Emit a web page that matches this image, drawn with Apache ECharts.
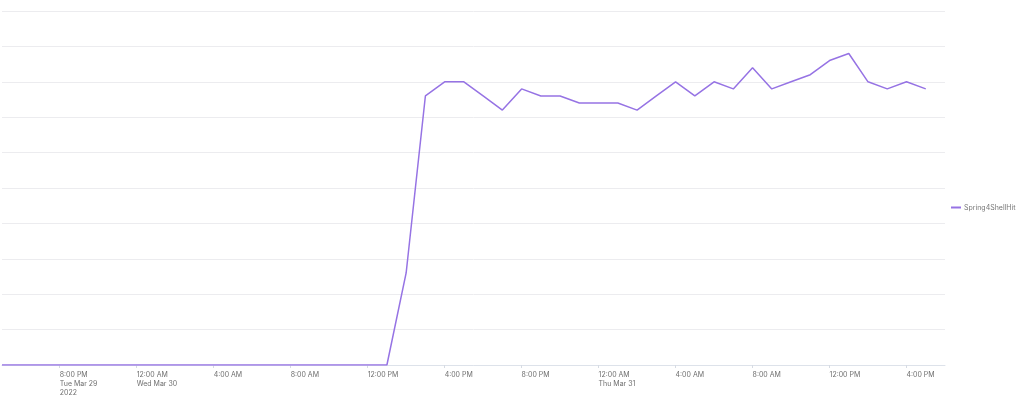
<!DOCTYPE html>
<html>
<head>
<meta charset="utf-8">
<title>Spring4ShellHit</title>
<script src="https://cdn.jsdelivr.net/npm/echarts@6/dist/echarts.min.js"></script>
<style>
    html, body { margin: 0; padding: 0; background: #fff; }
    #main { width: 1024px; height: 397px; }
</style>
</head>
<body>
<div id="main"></div>
<script>
// hourly samples
var times = [
    '2022-03-29 17:00', '2022-03-29 18:00', '2022-03-29 19:00', '2022-03-29 20:00',
    '2022-03-29 21:00', '2022-03-29 22:00', '2022-03-29 23:00', '2022-03-30 00:00',
    '2022-03-30 01:00', '2022-03-30 02:00', '2022-03-30 03:00', '2022-03-30 04:00',
    '2022-03-30 05:00', '2022-03-30 06:00', '2022-03-30 07:00', '2022-03-30 08:00',
    '2022-03-30 09:00', '2022-03-30 10:00', '2022-03-30 11:00', '2022-03-30 12:00',
    '2022-03-30 13:00', '2022-03-30 14:00', '2022-03-30 15:00', '2022-03-30 16:00',
    '2022-03-30 17:00', '2022-03-30 18:00', '2022-03-30 19:00', '2022-03-30 20:00',
    '2022-03-30 21:00', '2022-03-30 22:00', '2022-03-30 23:00', '2022-03-31 00:00',
    '2022-03-31 01:00', '2022-03-31 02:00', '2022-03-31 03:00', '2022-03-31 04:00',
    '2022-03-31 05:00', '2022-03-31 06:00', '2022-03-31 07:00', '2022-03-31 08:00',
    '2022-03-31 09:00', '2022-03-31 10:00', '2022-03-31 11:00', '2022-03-31 12:00',
    '2022-03-31 13:00', '2022-03-31 14:00', '2022-03-31 15:00', '2022-03-31 16:00',
    '2022-03-31 17:00'
];
var hits = [
    0, 0, 0, 0, 0, 0, 0, 0,
    0, 0, 0, 0, 0, 0, 0, 0,
    0, 0, 0, 0, 0, 26, 76, 80,
    80, 76, 72, 78, 76, 76, 74, 74,
    74, 72, 76, 80, 76, 80, 78, 84,
    78, 80, 82, 86, 88, 80, 78, 80,
    78
];
var seriesName = 'Spring4ShellHit';

// x axis labels
var tickTimes = [
    '2022-03-29 20:00', '2022-03-30 00:00', '2022-03-30 04:00', '2022-03-30 08:00',
    '2022-03-30 12:00', '2022-03-30 16:00', '2022-03-30 20:00', '2022-03-31 00:00',
    '2022-03-31 04:00', '2022-03-31 08:00', '2022-03-31 12:00', '2022-03-31 16:00'
];
var tickLabels = [
    '8:00 PM\nTue Mar 29\n2022', '12:00 AM\nWed Mar 30', '4:00 AM', '8:00 AM',
    '12:00 PM', '4:00 PM', '8:00 PM', '12:00 AM\nThu Mar 31',
    '4:00 AM', '8:00 AM', '12:00 PM', '4:00 PM'
];
var xMin = '2022-03-29 17:00';
var xMax = '2022-03-31 18:00';

(function () {
    var parse = function (s) { return +echarts.time.parse(s); };
    var tickTs = tickTimes.map(parse);

    function labelFor(value) {
        for (var i = 0; i < tickTs.length; i++) {
            if (Math.abs(tickTs[i] - value) < 1000) {
                return tickLabels[i];
            }
        }
        return '';
    }

    var myChart = echarts.init(document.getElementById('main'), null, { renderer: 'canvas' });
    var option = {
        animation: false,
        color: ['#9673e4'],
        textStyle: { fontFamily: 'Inter, "Noto Sans", sans-serif' },
        grid: { left: 2, right: 79, top: 11, bottom: 32, containLabel: false },
        legend: {
            orient: 'vertical',
            left: 951,
            top: 204,
            padding: 0,
            icon: 'rect',
            itemWidth: 10,
            itemHeight: 2,
            itemGap: 4,
            textStyle: { fontSize: 7, color: '#777', padding: [0, 0, 0, -2] },
            data: [seriesName]
        },
        xAxis: {
            type: 'value',
            min: parse(xMin),
            max: parse(xMax),
            axisLine: { onZero: false, lineStyle: { color: '#dde2ea', width: 1 } },
            axisTick: {
                show: true,
                length: 3,
                customValues: tickTs,
                lineStyle: { color: '#d6dbe3' }
            },
            axisLabel: {
                customValues: tickTs,
                align: 'left',
                margin: 5,
                fontSize: 7,
                lineHeight: 9,
                color: '#6e6e6e',
                verticalAlign: 'top',
                showMinLabel: true,
                showMaxLabel: true,
                formatter: function (value) { return labelFor(value); }
            },
            splitLine: { show: false }
        },
        yAxis: {
            type: 'value',
            min: 0,
            max: 100,
            interval: 10,
            axisLabel: { show: false },
            axisLine: { show: false },
            axisTick: { show: false },
            splitLine: { lineStyle: { color: '#ececef', width: 1 } }
        },
        series: [
            {
                name: seriesName,
                type: 'line',
                showSymbol: false,
                lineStyle: { width: 1.5 },
                data: times.map(function (t, i) { return [parse(t), hits[i]]; })
            }
        ]
    };
    myChart.setOption(option);
})();
</script>
</body>
</html>
